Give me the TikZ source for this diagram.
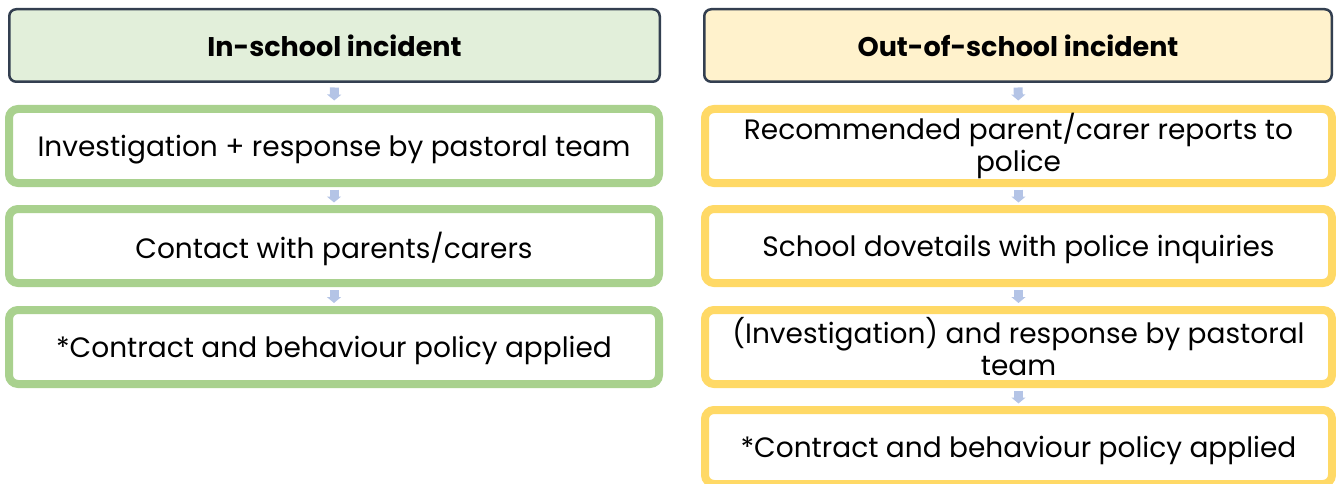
\documentclass[tikz,border=0pt]{standalone}
\usepackage{fontspec}
\setmainfont{Poppins}
\usetikzlibrary{arrows.meta}
\definecolor{hdrline}{HTML}{333F50}
\definecolor{hdrgreen}{HTML}{E2EFDA}
\definecolor{hdryellow}{HTML}{FFF2CC}
\definecolor{stepgreen}{HTML}{A9D18E}
\definecolor{stepyellow}{HTML}{FFD966}
\definecolor{flowblue}{HTML}{B4C4E6}
\begin{document}
\begin{tikzpicture}[x=1pt,y=-1pt,
  header/.style={draw=hdrline, line width=2.5pt, rounded corners=7pt,
    minimum height=72.5pt, inner sep=0pt, align=center,
    font=\fontsize{27}{31}\selectfont\bfseries},
  stepbox/.style={fill=white, line width=8pt, rounded corners=9pt,
    minimum height=74pt, inner sep=0pt, align=center,
    font=\fontsize{28}{32}\selectfont},
  oneline/.style={text depth=1pt},
  greenbox/.style={stepbox, draw=stepgreen, minimum width=650pt},
  yellowbox/.style={stepbox, draw=stepyellow, minimum width=627pt},
  flow/.style={draw=flowblue, line width=9pt,
    -{Triangle[width=14pt,length=6pt]}, shorten <=#1, shorten >=#1}
]
\useasboundingbox (0,0) rectangle (1336,484);

% in-school column
\node[header, fill=hdrgreen, minimum width=650.5pt] (inhdr) at (334.5,45.5) {In-school incident};
\node[greenbox, oneline] (in1) at (334,146) {Investigation + response by pastoral team};
\node[greenbox, oneline] (in2) at (334,246) {Contact with parents/carers};
\node[greenbox, oneline] (in3) at (334,347) {*Contract and behaviour policy applied};

% out-of-school column
\node[header, fill=hdryellow, minimum width=627.5pt] (outhdr) at (1018,45.5) {Out-of-school incident};
\node[yellowbox] (out1) at (1018.5,146) {Recommended parent/carer reports to\\police};
\node[yellowbox, oneline] (out2) at (1018.5,246) {School dovetails with police inquiries};
\node[yellowbox] (out3) at (1018.5,347) {(Investigation) and response by pastoral\\team};
\node[yellowbox, oneline] (out4) at (1018.5,447) {*Contract and behaviour policy applied};

% small block arrows between the steps
\draw[flow=4.5pt] (inhdr) -- (in1);
\draw[flow=2.5pt] (in1) -- (in2);
\draw[flow=3pt] (in2) -- (in3);

\draw[flow=4.5pt] (outhdr) -- (out1);
\draw[flow=2.5pt] (out1) -- (out2);
\draw[flow=3pt] (out2) -- (out3);
\draw[flow=2.5pt] (out3) -- (out4);
\end{tikzpicture}
\end{document}
